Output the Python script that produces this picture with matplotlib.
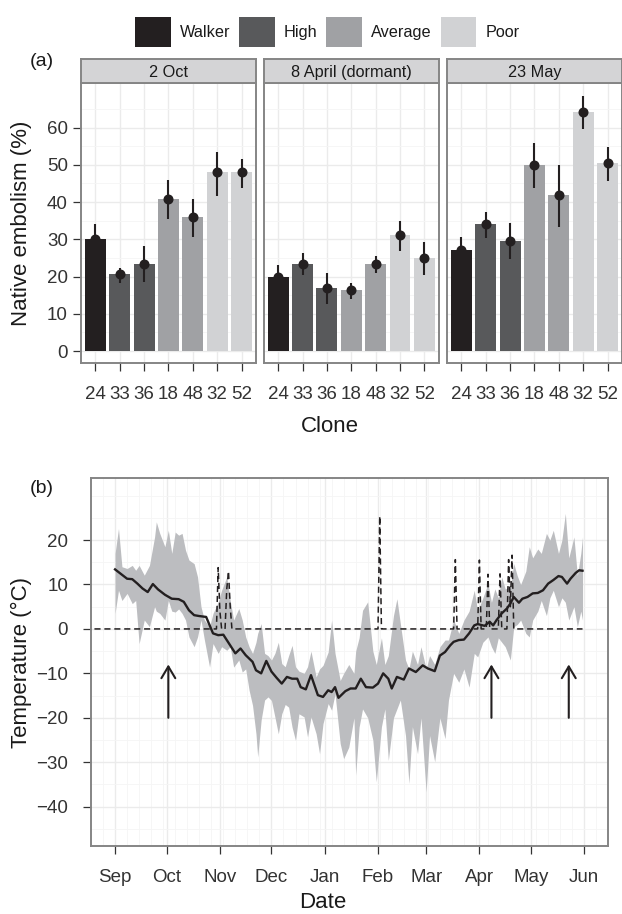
import numpy as np
import pandas as pd
import matplotlib
matplotlib.use("Agg")
import matplotlib.pyplot as plt
import matplotlib.dates as mdates
from matplotlib.patches import Patch

plt.rcParams['font.family'] = ['Liberation Sans', 'DejaVu Sans']

# ---- (a) native embolism by clone on three sampling dates ----
clones = ['24', '33', '36', '18', '48', '32', '52']
clone_group = ['Walker', 'High', 'High', 'Average', 'Average', 'Poor', 'Poor']
facets = ['2 Oct', '8 April (dormant)', '23 May']

emb_oct = [30.2, 20.6, 23.5, 40.8, 35.9, 48.0, 48.0]
emb_apr = [20.0, 23.5, 17.0, 16.5, 23.5, 31.2, 25.1]
emb_may = [27.0, 34.0, 29.6, 49.9, 41.8, 64.1, 50.4]
lo_oct = [27.0, 18.4, 18.6, 35.5, 30.7, 41.7, 43.8]
lo_apr = [18.0, 20.4, 12.6, 14.0, 21.0, 26.9, 20.5]
lo_may = [24.5, 30.4, 24.7, 43.8, 33.2, 59.5, 45.7]
hi_oct = [34.0, 22.2, 28.2, 45.8, 40.8, 53.5, 51.7]
hi_apr = [23.1, 26.3, 20.9, 18.4, 25.6, 35.0, 29.3]
hi_may = [30.6, 37.4, 34.4, 55.8, 49.9, 68.5, 54.7]

legend_groups = ['Walker', 'High', 'Average', 'Poor']
group_col = {'Walker': '#231F20', 'High': '#58595B',
             'Average': '#A0A1A4', 'Poor': '#D1D2D4'}

# ---- (b) air temperature, days counted from 1 Sep ----
start = pd.Timestamp('2012-09-01')

mean_days = [0, 3, 7, 10, 13, 16, 19, 22, 25, 29, 33, 37, 40, 43, 46, 49, 53,
             57, 60, 63, 67, 70, 73, 76, 80, 82, 85, 88, 91, 94, 97, 100, 103,
             106, 108, 111, 114, 118, 121, 124, 126, 128, 130, 134, 137, 140,
             143, 146, 150, 153, 156, 159, 161, 164, 168, 171, 175, 179, 182,
             186, 189, 192, 195, 197, 200, 203, 206, 209, 211, 215, 218, 220,
             222, 225, 228, 230, 232, 235, 237, 240, 243, 246, 249, 252, 255,
             258, 260, 263, 265, 268, 270, 272]
mean_temp = [13.4, 12.5, 11.3, 11.2, 10.2, 9.1, 8.3, 10.1, 8.9, 7.7, 6.8, 6.7,
             6.1, 4.2, 3.1, 2.9, 2.7, -1.0, -1.4, -1.3, -3.7, -5.5, -4.4, -5.9,
             -7.4, -9.3, -10.0, -7.2, -9.6, -11.0, -12.3, -10.8, -11.2, -11.2,
             -13.1, -13.6, -10.4, -14.9, -15.3, -13.8, -14.2, -13.1, -15.5,
             -14.0, -13.4, -13.4, -11.2, -13.1, -13.2, -12.3, -10.0, -11.2,
             -13.4, -10.8, -11.4, -8.9, -9.7, -8.2, -8.9, -9.5, -6.0, -5.2,
             -3.7, -2.9, -2.5, -2.4, -1.0, 0.8, 1.1, 0.7, 1.6, 0.8, 2.0, 3.5,
             4.6, 5.7, 7.2, 5.9, 6.8, 7.2, 8.0, 8.1, 8.7, 10.2, 11.0, 11.9,
             11.7, 10.2, 11.3, 12.6, 13.2, 13.1]

band_days = [0, 2, 4, 7, 10, 12, 14, 17, 20, 23, 24, 26, 29, 31, 33, 35, 37,
             39, 41, 43, 46, 48, 50, 52, 55, 57, 60, 62, 65, 67, 69, 72, 74,
             76, 78, 80, 82, 83, 85, 87, 89, 91, 93, 95, 97, 99, 101, 103, 105,
             107, 110, 112, 114, 117, 119, 121, 124, 126, 128, 131, 133, 136,
             139, 140, 142, 144, 147, 150, 152, 155, 157, 159, 162, 164, 166,
             169, 171, 173, 176, 178, 181, 183, 186, 189, 192, 194, 197, 200,
             203, 206, 209, 211, 214, 217, 219, 221, 223, 225, 227, 230, 232,
             234, 236, 239, 241, 243, 246, 248, 251, 253, 255, 258, 260, 262,
             264, 267, 269, 271, 272]
band_hi = [17.0, 22.6, 14.0, 13.6, 14.3, 13.2, 14.3, 12.1, 14.3, 20.7,
           24.1, 21.5, 18.5, 22.2, 17.0, 21.8, 21.1, 21.5, 17.7, 15.5,
           14.7, 11.7, 5.0, 2.0, 0.5, 3.5, 6.0, 8.7, 11.7, 6.4,
           2.0, 4.6, 2.0, -1.8, -4.0, -5.5, -3.0, -1.0, 1.2, -5.5,
           -6.0, -7.0, -5.5, -3.0, -7.8, -8.5, -6.0, -3.7, -8.5, -9.5,
           -10.0, -8.5, -5.0, -10.8, -9.0, -8.2, -5.2, 2.0, -5.5, -11.6,
           -10.0, -8.0, -10.0, -5.0, -2.0, 4.2, 6.1, -5.0, -8.0, -2.0,
           -8.0, -6.0, 3.0, 6.8, 1.2, -7.0, -9.0, -5.0, -8.0, -4.0,
           -9.0, -6.0, -8.0, -4.0, -2.5, -2.5, 2.0, -1.0, 2.0, 4.0,
           8.7, 4.0, 7.0, 10.2, 6.0, 9.0, 7.0, 11.7, 9.0, 9.5,
           14.7, 12.0, 10.0, 13.0, 18.5, 16.0, 18.0, 17.0, 21.5, 20.0,
           22.2, 17.0, 20.0, 26.0, 16.0, 20.7, 12.0, 17.0, 20.7]
band_lo = [3.5, 8.7, 6.4, 8.0, 5.7, 6.4, -3.3, 2.0, 0.5, 5.0,
           4.0, 3.5, 2.0, 6.4, 4.0, 3.8, 4.5, 3.5, 2.0, -1.8,
           -4.0, -1.8, 2.0, -2.5, -8.6, -3.3, -5.5, -4.0, -4.8, -4.0,
           -8.6, -7.0, -9.7, -9.0, -13.8, -17.2, -23.6, -28.8, -20.5, -16.0,
           -15.3, -16.1, -19.8, -23.6, -19.1, -17.0, -17.6, -22.1, -25.1, -19.1,
           -19.8, -24.3, -19.8, -23.6, -28.1, -21.3, -16.8, -18.3, -14.6, -25.8,
           -29.2, -26.6, -20.0, -32.9, -22.1, -18.0, -20.0, -25.0, -34.4, -22.0,
           -18.0, -29.6, -20.0, -18.0, -16.0, -24.0, -34.8, -22.0, -28.1, -20.0,
           -36.7, -24.0, -29.9, -20.0, -24.7, -16.0, -10.0, -12.0, -9.0, -13.1,
           -5.5, -6.3, -3.0, -1.8, -4.0, -5.5, -2.0, -3.0, -4.0, -7.0,
           0.5, 1.0, 2.0, -1.0, -1.8, 2.0, 4.0, 6.4, 3.0, 7.0,
           8.7, 5.0, 7.0, 6.0, 2.0, 5.0, 0.5, 4.0, 2.0]

dash_days = [-12, 59, 60, 61, 62, 64, 65, 66, 67, 68, 153, 154, 155, 197, 198,
             199, 211, 212, 213, 216, 217, 218, 223, 224, 225, 228, 229, 230,
             231, 232, 272]
dash_temp = [0, 0, 13.8, 4.0, 0, 0, 9.0, 13.0, 5.0, 0, 0, 25.4, 0, 0, 15.6,
             0, 0, 15.5, 0, 0, 12.3, 0, 0, 12.4, 0, 0, 15.6, 5.0, 16.6, 0, 0]

sample_dates = ['2012-10-02', '2013-04-08', '2013-05-23']

# ---- figure layout (pixel boxes) ----
W, H = 622, 914
ink = '#231F20'
border = '#858585'
grid_major = '#EBEBEB'
grid_minor = '#F5F5F5'
tick_col = '#333333'

fig = plt.figure(figsize=(W / 100, H / 100), dpi=100)


def box(x0, y0, x1, y1):
    return [x0 / W, 1 - y1 / H, (x1 - x0) / W, (y1 - y0) / H]


def style_panel(ax):
    ax.set_facecolor('white')
    for s in ax.spines.values():
        s.set_color(border)
        s.set_linewidth(1.4)
        s.set_zorder(6)
    ax.tick_params(which='major', length=5.8, width=0.9, color=tick_col,
                   labelcolor=tick_col, labelsize=13.5)
    ax.tick_params(which='minor', length=0)


# panel (a)
emb = [emb_oct, emb_apr, emb_may]
emb_lo = [lo_oct, lo_apr, lo_may]
emb_hi = [hi_oct, hi_apr, hi_may]
lefts = [80.7, 263.5, 446.7]
pw = 175.5
x = np.arange(len(clones))
bar_cols = [group_col[g] for g in clone_group]

for k, left in enumerate(lefts):
    ax = fig.add_axes(box(left, 83.3, left + pw, 363.3))
    style_panel(ax)
    ax.set_xlim(-0.6, len(clones) - 0.4)
    ax.set_ylim(-3.3, 71.9)
    ax.set_yticks(np.arange(0, 61, 10))
    ax.set_yticks(np.arange(5, 70, 10), minor=True)
    ax.set_xticks(x)
    ax.set_xticklabels(clones)
    ax.grid(True, which='major', color=grid_major, lw=1.0, zorder=0)
    ax.grid(True, which='minor', axis='y', color=grid_minor, lw=0.6, zorder=0)
    ax.set_axisbelow(True)
    ax.bar(x, emb[k], width=0.86, color=bar_cols, zorder=2)
    ax.vlines(x, emb_lo[k], emb_hi[k], color=ink, lw=1.5, zorder=3)
    ax.plot(x, emb[k], 'o', color=ink, ms=6.2, zorder=4)
    ax.tick_params(axis='x', pad=10.5)
    if k == 0:
        ax.tick_params(axis='y', pad=3.4)
    else:
        ax.tick_params(axis='y', left=False, labelleft=False)

    # facet strip
    st = fig.add_axes(box(left, 59.3, left + pw, 83.3))
    st.set_facecolor('#D4D4D6')
    st.set_xticks([])
    st.set_yticks([])
    for s in st.spines.values():
        s.set_color(border)
        s.set_linewidth(1.4)
    st.text(0.5, 0.47, facets[k], ha='center', va='center', fontsize=11.7,
            color='#1A1A1A', transform=st.transAxes)

# panel (b)
axb = fig.add_axes(box(91, 478.3, 608.3, 846))
style_panel(axb)

t_mean = start + pd.to_timedelta(mean_days, unit='D')
t_band = start + pd.to_timedelta(band_days, unit='D')
t_dash = start + pd.to_timedelta(dash_days, unit='D')

axb.fill_between(t_band, band_lo, band_hi, color='#BCBDC0', lw=0, zorder=2)
axb.plot(t_dash, dash_temp, color=ink, lw=1.1, dashes=(4, 2.5), zorder=3)
axb.plot(t_mean, mean_temp, color=ink, lw=1.7, zorder=4)

for d in sample_dates:
    xd = mdates.date2num(pd.Timestamp(d))
    axb.annotate('', xy=(xd, -8), xytext=(xd, -20),
                 arrowprops=dict(arrowstyle='->, head_length=0.42, head_width=0.25',
                                 lw=1.5, color=ink, mutation_scale=20,
                                 shrinkA=0, shrinkB=0), zorder=5)

axb.set_xlim(start - pd.Timedelta(days=13.9), start + pd.Timedelta(days=285.6))
axb.set_ylim(-48.85, 33.9)
axb.set_yticks(np.arange(-40, 21, 10))
axb.set_yticks(np.arange(-45, 31, 5), minor=True)

months = pd.date_range('2012-09-01', '2013-06-01', freq='MS')
weeks = pd.date_range('2012-08-18', '2013-06-15', freq='7D')
axb.set_xticks(months)
axb.set_xticks(weeks, minor=True)
axb.xaxis.set_major_formatter(mdates.DateFormatter('%b'))
axb.grid(True, which='major', color=grid_major, lw=1.0, zorder=0)
axb.grid(True, which='minor', color=grid_minor, lw=0.6, zorder=0)
axb.set_axisbelow(True)
axb.tick_params(axis='x', pad=10.8)
axb.tick_params(axis='y', pad=10.6)

# legend across the top
handles = [Patch(facecolor=group_col[g], edgecolor='none') for g in legend_groups]
fig.legend(handles, legend_groups, loc='center left',
           bbox_to_anchor=(135 / W, 1 - 32 / H), ncol=4, frameon=False,
           fontsize=11.7, handlelength=2.2, handleheight=2.4,
           handletextpad=0.55, columnspacing=0.55, borderpad=0,
           borderaxespad=0, labelcolor='#1A1A1A')

# titles and panel tags
title_kw = dict(fontsize=16, color='#1A1A1A')
fig.text(21.7 / W, 1 - 223.3 / H, 'Native embolism (%)', rotation=90,
         ha='center', va='center', **title_kw)
fig.text(21.7 / W, 1 - 662 / H, 'Temperature (°C)', rotation=90,
         ha='center', va='center', **title_kw)
fig.text(329.4 / W, 1 - 431.7 / H, 'Clone', ha='center', va='baseline', **title_kw)
fig.text(322.4 / W, 1 - 908.5 / H, 'Date', ha='center', va='baseline', **title_kw)
fig.text(30 / W, 1 - 66 / H, '(a)', ha='left', va='baseline', fontsize=14,
         color='#1A1A1A')
fig.text(30 / W, 1 - 493 / H, '(b)', ha='left', va='baseline', fontsize=14,
         color='#1A1A1A')

fig.savefig('out.png', dpi=100)
